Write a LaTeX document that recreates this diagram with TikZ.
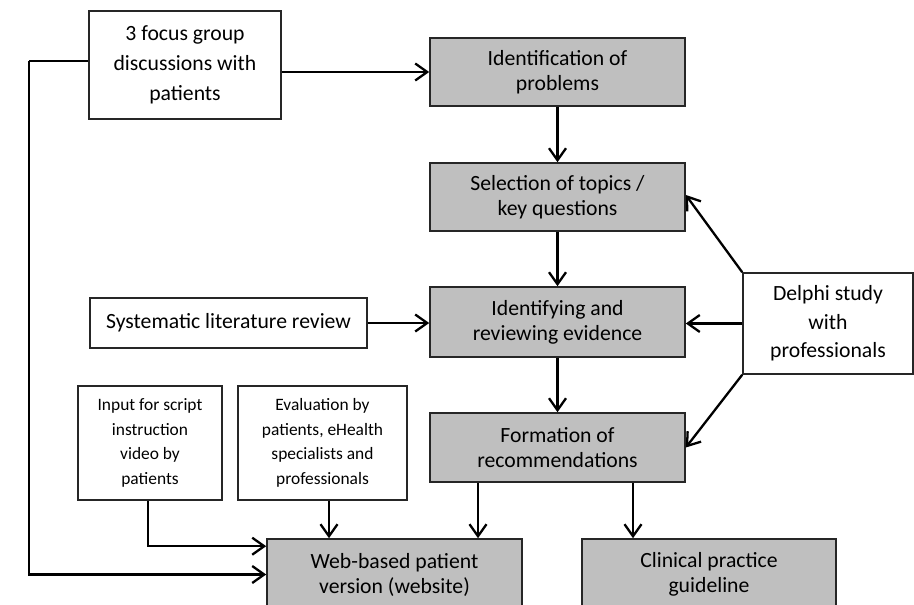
\documentclass[tikz,border=0pt]{standalone}
\usepackage{fontspec}
\setmainfont{Carlito}
\usetikzlibrary{arrows.meta}
\tikzset{
  box/.style={draw=black!85, line width=1.6pt, align=center, inner sep=0pt,
    font=\fontsize{21.7}{25}\selectfont},
  gbox/.style={box, fill=black!25},
  wbox/.style={box, fill=white},
  sbox/.style={box, fill=white, font=\fontsize{17.4}{24.5}\selectfont},
  conn/.style={line width=2.3pt, -{Straight Barb[length=12pt,width=17pt,line width=2.3pt]}},
  plain/.style={line width=2.3pt},
}
\begin{document}
\begin{tikzpicture}[x=1pt,y=-1pt]
\useasboundingbox (0,0) rectangle (914,605);
\clip (0,0) rectangle (914,605);
\node[wbox, minimum width=192pt, minimum height=108pt, font=\fontsize{21.7}{30}\selectfont] (focus) at (185,65) {3 focus group\\discussions with\\patients};
\node[gbox, minimum width=255pt, minimum height=68pt] (ident) at (557.5,72) {Identification of\\problems};
\node[gbox, minimum width=255pt, minimum height=68pt] (sel) at (557.5,197) {Selection of topics /\\key questions};
\node[gbox, minimum width=255pt, minimum height=70pt] (idev) at (557.5,322) {Identifying and\\reviewing evidence};
\node[gbox, minimum width=255pt, minimum height=69pt] (form) at (557.5,447.5) {Formation of\\recommendations};
\node[gbox, minimum width=255pt, minimum height=71pt] (web) at (394.5,574.5) {Web-based patient\\version (website)};
\node[gbox, minimum width=254pt, minimum height=71pt] (clin) at (709,574.5) {Clinical practice\\guideline};
\node[wbox, minimum width=170pt, minimum height=101pt, font=\fontsize{21.7}{28.5}\selectfont] (delphi) at (828,323.5) {Delphi study\\with\\professionals};
\node[wbox, minimum width=277pt, minimum height=50pt] (syst) at (228.5,323) {Systematic literature review};
\node[sbox, minimum width=144pt, minimum height=114pt] (input) at (150,443) {Input for script\\instruction\\video by\\patients};
\node[sbox, minimum width=169pt, minimum height=114pt] (eval) at (322.5,443) {Evaluation by\\patients, eHealth\\specialists and\\professionals};
\coordinate (lft) at (29,61);
\draw[plain] ([yshift=4pt]focus.west) -- (lft);
\draw[conn] (lft) |- (web.west);
\draw[conn] (focus.east |- ident.west) -- (ident.west);
\draw[conn] (ident.south) -- (sel.north);
\draw[conn] (sel.south) -- (idev.north);
\draw[conn] (idev.south) -- (form.north);
\draw[conn] (syst.east) -- (syst.east -| idev.west);
\draw[conn] (delphi.north west) -- ([yshift=2pt]sel.east);
\draw[conn] (delphi.west) -- (delphi.west -| idev.east);
\draw[conn] (delphi.south west) -- (form.east);
\draw[conn] ([xshift=-2pt]input.south) |- ([yshift=-8pt]web.north west);
\draw[conn] ([xshift=6.5pt]eval.south) -- ([xshift=6.5pt]eval.south |- web.north);
\draw[conn] ([xshift=-79.5pt]form.south) -- ([xshift=-79.5pt]form.south |- web.north);
\draw[conn] ([xshift=75.5pt]form.south) -- ([xshift=75.5pt]form.south |- clin.north);
\end{tikzpicture}
\end{document}
